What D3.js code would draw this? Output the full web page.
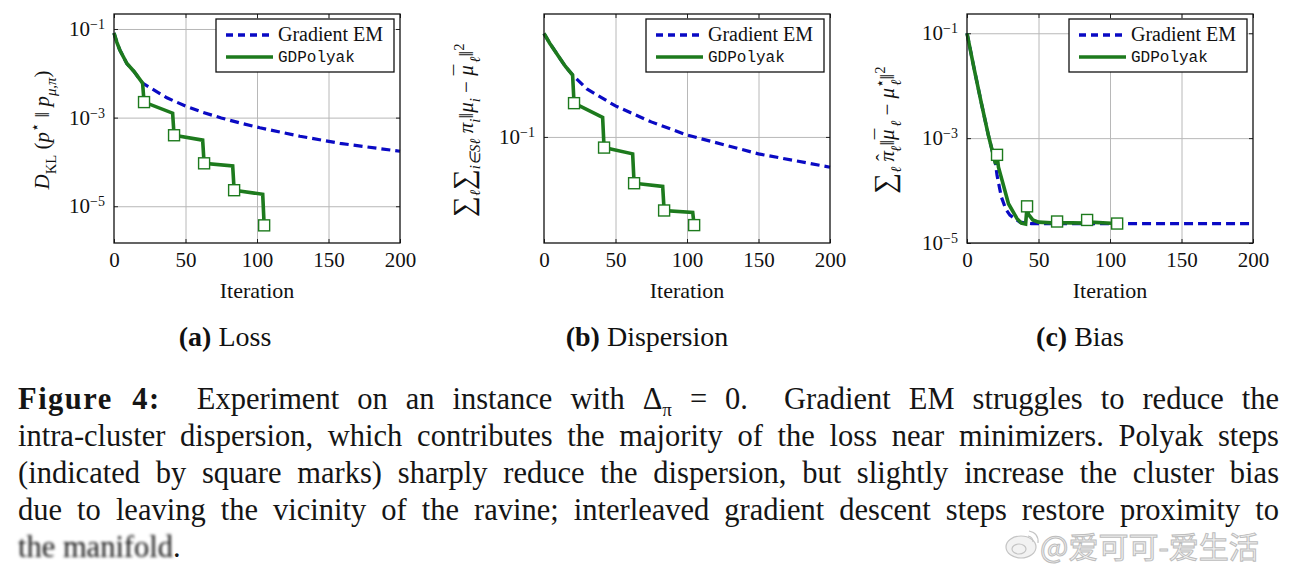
<!DOCTYPE html>
<html>
<head>
<meta charset="utf-8">
<script src="https://cdn.jsdelivr.net/npm/d3@7"></script>
<style>
  body { margin: 0; background: #fff; }
  #wrap { position: relative; width: 1293px; height: 575px; overflow: hidden; background: #fff; }
  #wrap svg { position: absolute; left: 0; top: 0; }
  #chart text { font-family: "Liberation Serif"; }
  #chart text.mono { font-family: "Liberation Mono"; }
  #caption { position: absolute; left: 18px; top: 381px; width: 1261px;
    font-family: "Liberation Serif"; font-size: 30.5px; line-height: 37px; color: #151515; }
  #caption div { text-align: justify; text-align-last: justify; height: 37px; }
  #caption div.last { text-align-last: left; }
  #caption b { letter-spacing: 1.5px; }
  #caption sub { font-size: 19px; line-height: 0; }
  .blur { filter: blur(1.6px); }
</style>
</head>
<body>
<div id="wrap">
  <svg id="chart" width="1293" height="575"></svg>
  <div id="caption"></div>
  <svg id="mark" width="1293" height="575" style="pointer-events:none"></svg>
</div>
<script>
// ---- data ----
const xTicks = [0, 50, 100, 150, 200];
const polyakSteps = [21, 42, 63, 84, 105];

// (a) loss
const lossIter = [0, 2, 4, 9, 14, 20, 21, 41, 42, 62, 63, 83, 84, 104, 105];
const lossPolyak = [8.1e-2, 5.0e-2, 3.4e-2, 1.66e-2, 1.1e-2, 6.0e-3, 2.24e-3, 1.26e-3, 4.0e-4, 3.1e-4, 9.3e-5, 8.1e-5, 2.3e-5, 1.86e-5, 3.7e-6];
const lossEMIter = [0, 2, 4, 9, 14, 20, 25, 37, 50, 62, 75, 88, 102, 130, 158, 200];
const lossEM = [8.1e-2, 5.0e-2, 3.4e-2, 1.66e-2, 1.1e-2, 6.0e-3, 4.8e-3, 2.8e-3, 1.82e-3, 1.32e-3, 9.8e-4, 7.6e-4, 5.9e-4, 3.8e-4, 2.63e-4, 1.74e-4];
const lossTicks = [1e-1, 1e-3, 1e-5];

// (b) dispersion
const dispIter = [0, 4, 10, 15, 20, 21, 41, 42, 62, 63, 83, 84, 104, 105];
const dispPolyak = [0.49, 0.422, 0.347, 0.295, 0.259, 0.168, 0.135, 0.0849, 0.0771, 0.0491, 0.0467, 0.0323, 0.0313, 0.0258];
const dispEMIter = [0, 4, 10, 15, 20, 30, 50, 75, 100, 150, 200];
const dispEM = [0.49, 0.422, 0.347, 0.295, 0.259, 0.209, 0.161, 0.126, 0.103, 0.0771, 0.0628];
const dispTicks = [1e-1];

// (c) bias
const biasIter = [0, 5, 10, 15, 20, 21, 22, 25, 29, 35, 38, 41, 42, 43, 46, 50, 62, 63, 64, 83, 84, 86, 104, 105];
const biasPolyak = [1.0e-1, 2.1e-2, 4.7e-3, 1.12e-3, 3.2e-4, 4.8e-4, 2.8e-4, 1.41e-4, 5.6e-5, 2.9e-5, 2.4e-5, 2.3e-5, 5.0e-5, 3.5e-5, 2.75e-5, 2.5e-5, 2.4e-5, 2.57e-5, 2.45e-5, 2.4e-5, 2.75e-5, 2.5e-5, 2.35e-5, 2.35e-5];
const biasEMIter = [0, 5, 10, 15, 20, 21, 24, 27, 30, 37, 45, 200];
const biasEM = [1.0e-1, 2.1e-2, 4.7e-3, 1.12e-3, 3.2e-4, 1.95e-4, 7.6e-5, 4.5e-5, 3.4e-5, 2.5e-5, 2.34e-5, 2.34e-5];
const biasTicks = [1e-1, 1e-3, 1e-5];

const legendNames = ["Gradient EM", "GDPolyak"];
const subCaptions = [["(a)", "Loss"], ["(b)", "Dispersion"], ["(c)", "Bias"]];

// ---- layout ----
const blue = "#0a0ac4", green = "#1d7a1d", gridCol = "#b8b8b8";
const plotTop = 14, plotBottom = 243, plotW = 286;

const svg = d3.select("#chart");

// rotated math label; parts shifted as sub/superscripts or by a raw raise in px
function mathLabel(g, parts, fs) {
  const t = g.append("text").attr("text-anchor", "middle")
    .style("font-size", fs + "px").attr("fill", "#111");
  let cur = 0;
  parts.forEach(p => {
    const shift = p.raise !== undefined ? p.raise : p.sub ? 0.32 * fs : p.sup ? -0.45 * fs : 0;
    const ts = t.append("tspan")
      .attr("dy", shift - cur)
      .style("font-size", ((p.sub || p.sup) ? fs * 0.7 : (p.size || fs)) + "px")
      .style("font-style", p.it ? "italic" : "normal")
      .text(p.t);
    if (p.dx) ts.attr("dx", p.dx);
    cur = shift;
  });
  return t;
}

function drawPanel(cfg) {
  const x = d3.scaleLinear().domain([0, 200]).range([cfg.left, cfg.left + plotW]);
  const y = d3.scaleLog().domain(cfg.yDomain).range([plotBottom, plotTop]);
  const g = svg.append("g");

  // grid
  g.append("g").attr("transform", `translate(0,${plotBottom})`)
    .call(d3.axisBottom(x).tickValues([50, 100, 150]).tickSize(-(plotBottom - plotTop)).tickFormat(""))
    .call(a => a.select(".domain").remove())
    .call(a => a.selectAll("line").attr("stroke", gridCol).attr("stroke-width", 1));
  g.append("g").attr("transform", `translate(${cfg.left},0)`)
    .call(d3.axisLeft(y).tickValues(cfg.yTicks).tickSize(-plotW).tickFormat(""))
    .call(a => a.select(".domain").remove())
    .call(a => a.selectAll("line").attr("stroke", gridCol).attr("stroke-width", 1));

  // small inner ticks
  [[d3.axisBottom(x), `translate(0,${plotBottom})`], [d3.axisTop(x), `translate(0,${plotTop})`]].forEach(([ax, tr]) => {
    g.append("g").attr("transform", tr)
      .call(ax.tickValues(xTicks).tickSize(-4).tickFormat(""))
      .call(a => a.select(".domain").remove())
      .call(a => a.selectAll("line").attr("stroke", "#222"));
  });
  [[d3.axisLeft(y), cfg.left], [d3.axisRight(y), cfg.left + plotW]].forEach(([ax, tx]) => {
    g.append("g").attr("transform", `translate(${tx},0)`)
      .call(ax.tickValues(cfg.yTicks).tickSize(-4).tickFormat(""))
      .call(a => a.select(".domain").remove())
      .call(a => a.selectAll("line").attr("stroke", "#222"));
  });

  // tick labels
  g.append("g").attr("transform", `translate(0,${plotBottom})`)
    .call(d3.axisBottom(x).tickValues(xTicks).tickSize(0).tickPadding(9))
    .call(a => a.select(".domain").remove())
    .call(a => a.selectAll("text").attr("fill", "#111").style("font-size", "21px"));
  g.append("g").attr("transform", `translate(${cfg.left},0)`)
    .call(d3.axisLeft(y).tickValues(cfg.yTicks).tickSize(0).tickPadding(9))
    .call(a => a.select(".domain").remove())
    .call(a => a.selectAll("text").attr("fill", "#111").style("font-size", "21px")
      .each(function (d) {
        const t = d3.select(this).text("");
        t.append("tspan").text("10");
        t.append("tspan").attr("dy", "-0.5em").style("font-size", "14px")
          .text("\u2212" + Math.abs(Math.round(Math.log10(d))));
      }));

  // series
  const line = d3.line().x(d => x(d[0])).y(d => y(d[1]));
  g.append("path")
    .datum(cfg.emIter.map((it, i) => [it, cfg.em[i]]))
    .attr("fill", "none").attr("stroke", blue).attr("stroke-width", 3.2)
    .attr("stroke-dasharray", "9,5").attr("d", line);
  g.append("path")
    .datum(cfg.iter.map((it, i) => [it, cfg.polyak[i]]))
    .attr("fill", "none").attr("stroke", green).attr("stroke-width", 3.6)
    .attr("stroke-linejoin", "miter").attr("d", line);
  g.selectAll("rect.mk")
    .data(polyakSteps.map(s => [s, cfg.polyak[cfg.iter.indexOf(s)]]))
    .join("rect").attr("class", "mk")
    .attr("x", d => x(d[0]) - 5.5).attr("y", d => y(d[1]) - 5.5)
    .attr("width", 11).attr("height", 11)
    .attr("fill", "#fff").attr("stroke", green).attr("stroke-width", 1.4);

  // frame
  g.append("rect").attr("x", cfg.left).attr("y", plotTop).attr("width", plotW).attr("height", plotBottom - plotTop)
    .attr("fill", "none").attr("stroke", "#111").attr("stroke-width", 1.3);

  // legend
  const lx = cfg.left + plotW - 184, ly = plotTop + 5;
  const lg = g.append("g").attr("transform", `translate(${lx},${ly})`);
  lg.append("rect").attr("width", 178).attr("height", 53).attr("fill", "#fff")
    .attr("stroke", "#111").attr("stroke-width", 1.3);
  lg.append("line").attr("x1", 10).attr("x2", 57).attr("y1", 16).attr("y2", 16)
    .attr("stroke", blue).attr("stroke-width", 3.4).attr("stroke-dasharray", "7,5");
  lg.append("line").attr("x1", 10).attr("x2", 57).attr("y1", 38).attr("y2", 38)
    .attr("stroke", green).attr("stroke-width", 3.6);
  lg.append("text").attr("x", 62).attr("y", 22).style("font-size", "20px")
    .attr("fill", "#111").text(legendNames[0]);
  lg.append("text").attr("class", "mono").attr("x", 62).attr("y", 43).style("font-size", "16px")
    .attr("fill", "#111").text(legendNames[1]);

  // x label
  g.append("text").attr("x", cfg.left + plotW / 2).attr("y", 298).attr("text-anchor", "middle")
    .style("font-size", "22px").attr("fill", "#111").text("Iteration");

  // y label
  const yl = g.append("g").attr("transform", `translate(${cfg.ylx},${cfg.yly}) rotate(-90)`);
  mathLabel(yl, cfg.ylabel, 21);

  // sub caption
  const sc = g.append("text").attr("x", cfg.capX).attr("y", 346).attr("text-anchor", "middle")
    .style("font-size", "28px").attr("fill", "#111");
  sc.append("tspan").style("font-weight", "bold").text(cfg.caption[0]);
  sc.append("tspan").text(" " + cfg.caption[1]);
}

drawPanel({
  left: 114, yDomain: [1.48e-6, 0.218], yTicks: lossTicks,
  iter: lossIter, polyak: lossPolyak, emIter: lossEMIter, em: lossEM,
  ylx: 49, yly: 130, capX: 225, caption: subCaptions[0],
  ylabel: [{ t: "D", it: 1 }, { t: "KL", sub: 1 }, { t: " (" }, { t: "p", it: 1 }, { t: "\u22c6", sup: 1 },
    { t: " \u2016 " }, { t: "p", it: 1 }, { t: "\u03bc,\u03c0", sub: 1, it: 1 }, { t: ")" }]
});
drawPanel({
  left: 544, yDomain: [0.0196, 0.661], yTicks: dispTicks,
  iter: dispIter, polyak: dispPolyak, emIter: dispEMIter, em: dispEM,
  ylx: 473, yly: 130, capX: 647, caption: subCaptions[1],
  ylabel: [{ t: "\u2211", size: 29 }, { t: "\u2113", sub: 1, it: 1 }, { t: "\u2211", size: 29 }, { t: "i\u2208S", sub: 1, it: 1 },
    { t: "\u2113", sub: 1, it: 1 }, { t: " \u03c0", it: 1 }, { t: "i", sub: 1, it: 1 }, { t: "\u2016" }, { t: "\u03bc", it: 1 },
    { t: "i", sub: 1, it: 1 }, { t: " \u2212 " }, { t: "\u03bc", it: 1 }, { t: "\u00af", raise: -4, dx: -10 },
    { t: "\u2113", sub: 1, it: 1, dx: 2 }, { t: "\u2016" }, { t: "2", sup: 1 }]
});
drawPanel({
  left: 967, yDomain: [1e-5, 0.233], yTicks: biasTicks,
  iter: biasIter, polyak: biasPolyak, emIter: biasEMIter, em: biasEM,
  ylx: 894, yly: 130, capX: 1080, caption: subCaptions[2],
  ylabel: [{ t: "\u2211", size: 29 }, { t: "\u2113", sub: 1, it: 1 }, { t: " \u03c0", it: 1 }, { t: "\u02c6", raise: -3, dx: -10 },
    { t: "\u2113", sub: 1, it: 1, dx: 2 },
    { t: "\u2016" }, { t: "\u03bc", it: 1 }, { t: "\u00af", raise: -4, dx: -10 }, { t: "\u2113", sub: 1, it: 1, dx: 2 },
    { t: " \u2212 " }, { t: "\u03bc", it: 1 },
    { t: "\u22c6", sup: 1 }, { t: "\u2113", sub: 1, it: 1, dx: -7 }, { t: "\u2016" }, { t: "2", sup: 1 }]
});

// ---- caption ----
const captionLines = [
  "<b>Figure 4:</b>&nbsp; Experiment on an instance with \u0394<sub>\u03c0</sub> = 0. &nbsp;Gradient EM struggles to reduce the",
  "intra-cluster dispersion, which contributes the majority of the loss near minimizers. Polyak steps",
  "(indicated by square marks) sharply reduce the dispersion, but slightly increase the cluster bias",
  "due to leaving the vicinity of the ravine; interleaved gradient descent steps restore proximity to",
  "<span class='blur'>the manifold</span>."
];
d3.select("#caption").selectAll("div").data(captionLines).join("div")
  .classed("last", (d, i) => i === captionLines.length - 1)
  .html(d => d);

// ---- watermark ----
const mk = d3.select("#mark");
const logo = mk.append("g").attr("transform", "translate(1021,547)").attr("fill", "#f2f2f2").attr("stroke", "#c4c4c4").attr("stroke-width", 1.2);
logo.append("ellipse").attr("rx", 15).attr("ry", 11);
logo.append("ellipse").attr("cx", -2).attr("cy", 2).attr("rx", 7).attr("ry", 5);
logo.append("path").attr("d", "M8,-16 Q18,-14 17,-4 M7,-11 Q12,-10 12,-5").attr("fill", "none");
mk.append("text").attr("x", 1040).attr("y", 558)
  .style("font-family", "Noto Sans CJK SC").style("font-size", "30px")
  .attr("fill", "#f0f0f0").attr("stroke", "#bdbdbd").attr("stroke-width", 1)
  .text("@\u7231\u53ef\u53ef-\u7231\u751f\u6d3b");
</script>
</body>
</html>
